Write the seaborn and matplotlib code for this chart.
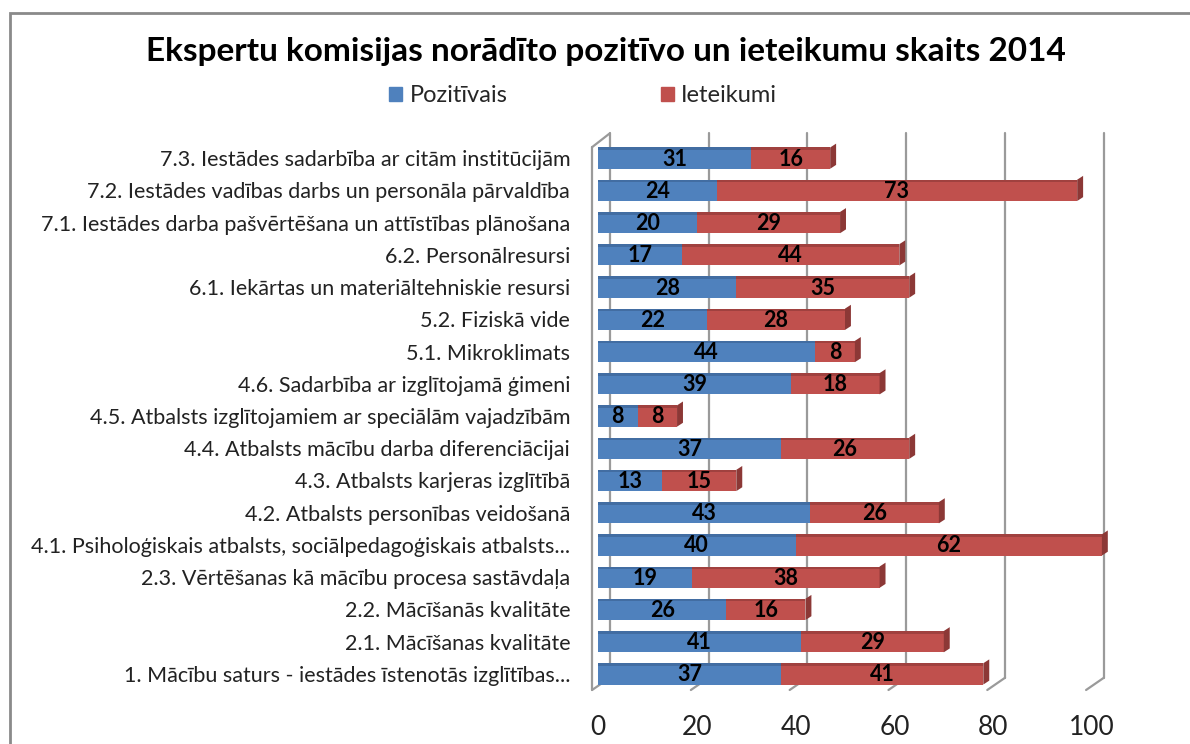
import matplotlib
matplotlib.use("Agg")
import matplotlib.pyplot as plt
import seaborn as sns
import pandas as pd
from matplotlib.patches import Polygon, Rectangle

categories = [
    "7.3. Iestādes sadarbība ar citām institūcijām",
    "7.2. Iestādes vadības darbs un personāla pārvaldība",
    "7.1. Iestādes darba pašvērtēšana un attīstības plānošana",
    "6.2. Personālresursi",
    "6.1. Iekārtas un materiāltehniskie resursi",
    "5.2. Fiziskā vide",
    "5.1. Mikroklimats",
    "4.6. Sadarbība ar izglītojamā ģimeni",
    "4.5. Atbalsts izglītojamiem ar speciālām vajadzībām",
    "4.4. Atbalsts mācību darba diferenciācijai",
    "4.3. Atbalsts karjeras izglītībā",
    "4.2. Atbalsts personības veidošanā",
    "4.1. Psiholoģiskais atbalsts, sociālpedagoģiskais atbalsts...",
    "2.3. Vērtēšanas kā mācību procesa sastāvdaļa",
    "2.2. Mācīšanās kvalitāte",
    "2.1. Mācīšanas kvalitāte",
    "1. Mācību saturs - iestādes īstenotās izglītības...",
]
pozitivais = [31, 24, 20, 17, 28, 22, 44, 39, 8, 37, 13, 43, 40, 19, 26, 41, 37]
ieteikumi = [16, 73, 29, 44, 35, 28, 8, 18, 8, 26, 15, 26, 62, 38, 16, 29, 41]
x_ticks = [0, 20, 40, 60, 80, 100]
title = "Ekspertu komisijas norādīto pozitīvo un ieteikumu skaits 2014"
series_names = ["Pozitīvais", "Ieteikumi"]

sns.set_theme(style="white")
plt.rcParams['font.family'] = ['Lato', 'DejaVu Sans']

blue = "#4F81BD"
red = "#C0504D"
red_dark = "#8C3836"
blue_dark = "#3A6190"
grid_c = "#9A9A9A"

df = pd.DataFrame({"cat": categories, "pos": pozitivais, "iet": ieteikumi})
df["total"] = df["pos"] + df["iet"]

fig = plt.figure(figsize=(11.9, 7.44), dpi=100)
ax = fig.add_axes([598 / 1190, 1 - 690 / 744, (1092 - 598) / 1190, (690 - 142) / 744])

bw = 0.66
sns.barplot(data=df, y="cat", x="total", color=red, orient="h", width=bw, ax=ax,
            saturation=1, edgecolor="none", zorder=3)
sns.barplot(data=df, y="cat", x="pos", color=blue, orient="h", width=bw, ax=ax,
            saturation=1, edgecolor="none", zorder=4)
for p in ax.patches:
    p.set_clip_on(False)

# pseudo-3D: darker top strip and right end cap
for i, (p, t) in enumerate(zip(df["pos"], df["total"])):
    top = i - bw / 2
    ax.add_patch(Rectangle((0, top), p, 0.08, color=blue_dark, zorder=5, lw=0, alpha=0.6, clip_on=False))
    ax.add_patch(Rectangle((p, top), t - p, 0.08, color=red_dark, zorder=5, lw=0, alpha=0.6, clip_on=False))
    ax.add_patch(Polygon([(t, top), (t + 1.2, top - 0.12), (t + 1.2, top + bw - 0.12), (t, top + bw)],
                         closed=True, color=red_dark, zorder=5, lw=0, clip_on=False))
    ax.text(p / 2, i + 0.03, str(p), ha="center", va="center", fontsize=15.5,
            fontweight="bold", color="black", zorder=6)
    ax.text(p + (t - p) / 2, i + 0.03, str(t - p), ha="center", va="center", fontsize=15.5,
            fontweight="bold", color="black", zorder=6)

ax.set_xlim(0, 100)
ax.set_ylim(len(categories) - 0.5, -0.5)

# 3D-style walls: back gridlines offset, slanted floor ticks, left wall
n = len(categories)
y_back_top, y_back_bot = -0.77, n - 1 + 0.12
y_front_top, y_front_bot = -0.34, n - 1 + 0.5
dx_front, dx_back = -1.2, 2.4
for v in x_ticks:
    ax.plot([v + dx_back, v + dx_back], [y_back_top, y_back_bot], color=grid_c, lw=1.6,
            zorder=0, clip_on=False)
    ax.plot([v + dx_front, v + dx_back], [y_front_bot, y_back_bot], color=grid_c, lw=1.6,
            zorder=0, clip_on=False)
ax.plot([dx_front, dx_front], [y_front_top, y_front_bot], color=grid_c, lw=1.6, zorder=0, clip_on=False)
ax.plot([dx_front, dx_back], [y_front_top, y_back_top], color=grid_c, lw=1.6, zorder=0, clip_on=False)

ax.set_xticks(x_ticks)
ax.set_xticklabels([str(v) for v in x_ticks], fontsize=19, color="#222222")
ax.tick_params(axis="x", length=0, pad=18)
ax.tick_params(axis="y", length=0, pad=20, labelsize=15.5, labelcolor="#222222")
ax.set_xlabel("")
ax.set_ylabel("")
ax.grid(False)
for s in ["top", "right", "bottom", "left"]:
    ax.spines[s].set_visible(False)

fig.text(0.509, 1 - 52 / 744, title, ha="center", va="center", fontsize=24,
         fontweight="bold", color="black")

handles = [Rectangle((0, 0), 1, 1, color=blue), Rectangle((0, 0), 1, 1, color=red)]
fig.legend(handles, series_names, loc="center", bbox_to_anchor=(0.49, 1 - 96 / 744), ncol=2,
           frameon=False, fontsize=17, handlelength=0.55, handleheight=0.55,
           handletextpad=0.3, columnspacing=6.5)

# outer chart frame
fig.patches.append(Rectangle((10 / 1190, -0.02), 1.1, 1 - 13 / 744 + 0.02, transform=fig.transFigure,
                             fill=False, edgecolor="#8A8A8A", lw=2))

fig.savefig("out.png", dpi=100)
